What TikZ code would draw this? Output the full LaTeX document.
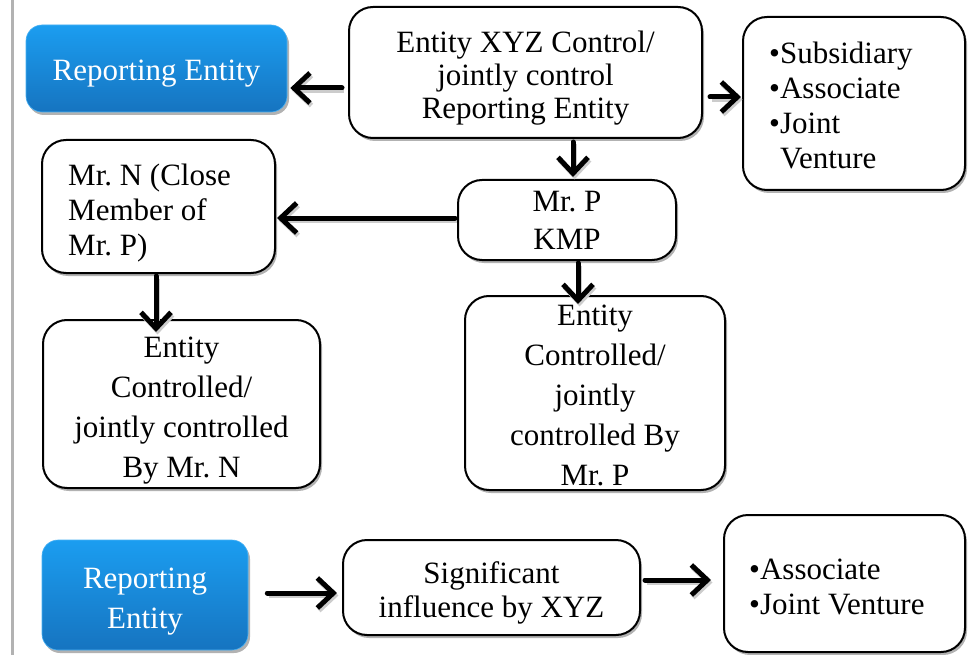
\documentclass[tikz,border=0pt]{standalone}
\usepackage{fontspec}
\setmainfont{Liberation Serif}
\frenchspacing
\usetikzlibrary{arrows.meta,shadows,calc}
\definecolor{bluetop}{RGB}{27,157,240}
\definecolor{bluebot}{RGB}{22,116,192}
\tikzset{
  wbox/.style={draw=black, line width=2pt, fill=white, rounded corners=24pt,
    inner sep=0pt,
    drop shadow={shadow xshift=2pt, shadow yshift=-3pt, opacity=0.3, fill=black}},
  bbox/.style={draw=bluetop!80!white, line width=0.6pt, top color=bluetop, bottom color=bluebot,
    rounded corners=16pt, inner sep=0pt,
    drop shadow={shadow xshift=2pt, shadow yshift=-3pt, opacity=0.3, fill=black}},
  txt/.style={inner sep=0pt, align=center, font=\fontsize{31}{#1}\selectfont},
  txt/.default=34,
  ltxt/.style={inner sep=0pt, align=left, anchor=west, font=\fontsize{31}{35}\selectfont},
  wtxt/.style={inner sep=0pt, align=center, text=white, font=\fontsize{31}{40}\selectfont},
  arr/.style={line width=5pt, line cap=round, -{Straight Barb[length=16pt,width=30pt,line width=5pt]},
    preaction={draw=black!20, line width=5pt, transform canvas={shift={(1.5pt,-2.5pt)}}}},
}
\begin{document}
\begin{tikzpicture}[x=1pt,y=-1pt]
\useasboundingbox (0,0) rectangle (974,655);
\fill[white] (0,0) rectangle (974,655);
\draw[black!30, line width=3pt] (12,0) -- (12,655);

% boxes
\node[bbox, minimum width=261pt, minimum height=87pt] (re1) at (156.5,68.5) {};
\node[wbox, minimum width=353pt, minimum height=131pt] (xyz) at (525.5,72.5) {};
\node[wbox, minimum width=222pt, minimum height=173pt] (saj) at (854,103.5) {};
\node[wbox, minimum width=233pt, minimum height=133pt] (mrn) at (158.5,206.5) {};
\node[wbox, minimum width=218pt, minimum height=80pt] (mrp) at (567,220) {};
\node[wbox, minimum width=277pt, minimum height=168pt] (en) at (181.5,404) {};
\node[wbox, minimum width=260pt, minimum height=194pt] (ep) at (595,393) {};
\node[bbox, minimum width=206pt, minimum height=110pt] (re2) at (145,595) {};
\node[wbox, minimum width=297pt, minimum height=95pt] (si) at (491.5,587.5) {};
\node[wbox, minimum width=241pt, minimum height=137pt] (aj) at (844.5,583.5) {};

% texts
\node[wtxt] (re1t) at ($(re1.center)+(0,5)$) {Reporting Entity};
\node[txt=33] (xyzt) at ($(xyz.center)+(0,5.5)$) {Entity XYZ Control/\\jointly control\\Reporting Entity};
\node[ltxt] (sajt) at ($(saj.west)+(27,2)$)
  {\textbullet Subsidiary\\\textbullet Associate\\\textbullet Joint\\\hphantom{\textbullet}Venture};
\node[ltxt] (mrnt) at ($(mrn.west)+(27,7)$) {Mr. N (Close\\Member of\\Mr. P)};
\node[txt=38] (mrpt) at ($(mrp.center)+(0,0)$) {Mr. P\\KMP};
\node[txt=40] (ent) at ($(en.center)+(0,7)$) {Entity\\Controlled/\\jointly controlled\\By Mr. N};
\node[txt=40] (ept) at ($(ep.center)+(0,2.5)$) {Entity\\Controlled/\\jointly\\controlled By\\Mr. P};
\node[wtxt] (re2t) at ($(re2.center)+(0,7)$) {Reporting\\Entity};
\node[txt=34] (sit) at ($(si.center)+(0,5)$) {Significant\\influence by XYZ};
\node[ltxt] (ajt) at ($(aj.west)+(26,3)$) {\textbullet Associate\\\textbullet Joint Venture};

% connectors
\draw[arr] ($(xyz.west)+(-6,15.5)$) -- ($(re1.east)+(3,19.5)$);
\draw[arr] ($(xyz.east)+(7,24.5)$) -- ($(saj.west)+(-1,-6.5)$);
\draw[arr] ($(xyz.south)+(47.5,3)$) -- ($(mrp.north)+(6,-2)$);
\draw[arr] ($(mrp.west)+(-2,-2)$) -- ($(mrn.east)+(1,11.5)$);
\draw[arr] ($(mrn.south)+(-2.5,2)$) -- ($(en.north)+(-25.5,13)$);
\draw[arr] ($(mrp.south)+(11,2)$) -- ($(ep.north)+(-17,9)$);
\draw[arr] ($(re2.east)+(19,-2)$) -- ($(si.west)+(-5,5.5)$);
\draw[arr] ($(si.east)+(4,-7.5)$) -- ($(aj.west)+(-12,-3.5)$);
\end{tikzpicture}
\end{document}
